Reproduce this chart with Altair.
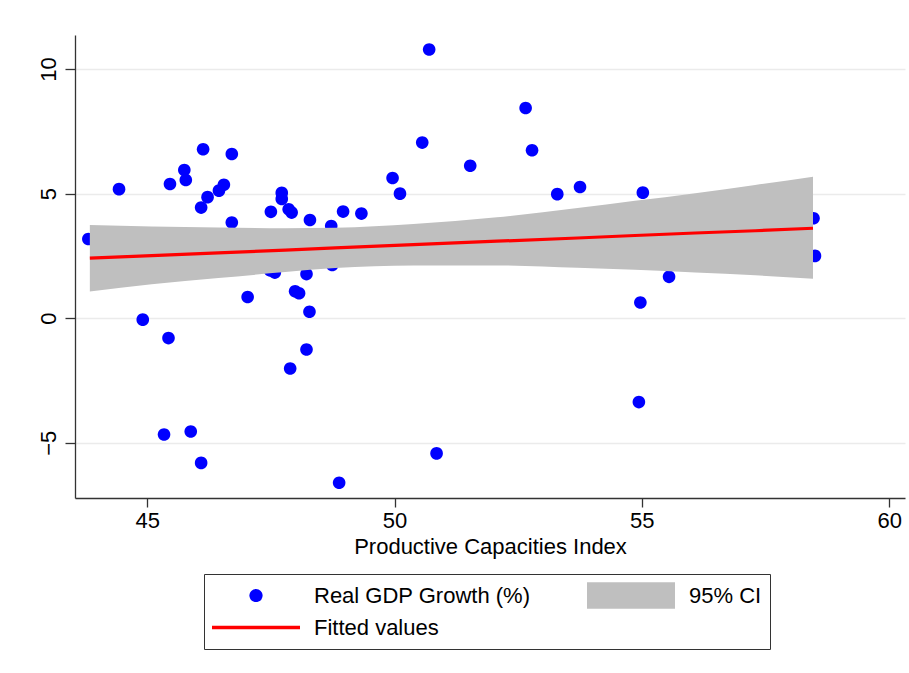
import altair as alt
import pandas as pd

# Scatter: Productive Capacities Index vs real GDP growth (%)
pci = [43.81, 44.43, 44.91, 45.34, 45.43, 45.46, 45.75, 45.78, 45.88, 46.09,
       46.09, 46.13, 46.22, 46.45, 46.55, 46.71, 46.71, 47.03, 47.48, 47.50,
       47.58, 47.72, 47.72, 47.86, 47.89, 47.92, 47.99, 48.07, 48.22, 48.22,
       48.28, 48.29, 48.72, 48.74, 48.88, 48.96, 49.33, 49.96, 50.11, 50.56,
       50.70, 50.85, 51.53, 52.65, 52.78, 53.29, 53.75, 54.94, 54.97, 55.02,
       55.55, 58.47, 58.50]
gdp = [3.18, 5.18, -0.06, -4.67, -0.80, 5.39, 5.95, 5.55, -4.55, 4.44,
       -5.81, 6.78, 4.86, 5.12, 5.36, 6.59, 3.84, 0.85, 1.92, 4.27,
       1.83, 5.03, 4.79, 4.37, -2.02, 4.24, 1.08, 1.00, 1.77, -1.26,
       0.26, 3.94, 3.70, 2.14, -6.61, 4.28, 4.20, 5.63, 5.00, 7.05,
       10.79, -5.43, 6.12, 8.44, 6.74, 4.98, 5.27, -3.37, 0.63, 5.04,
       1.66, 4.01, 2.50]

# Linear fit with its 95% confidence band
fit_x = [43.84, 45.09, 46.44, 47.79, 48.80, 50.38, 52.07, 53.70, 54.86, 56.08, 57.29, 58.46]
fit_y = [2.41, 2.51, 2.62, 2.73, 2.82, 2.95, 3.09, 3.22, 3.32, 3.42, 3.51, 3.61]
ci_lo = [1.07, 1.36, 1.61, 1.85, 2.01, 2.12, 2.12, 2.02, 1.94, 1.83, 1.72, 1.58]
ci_hi = [3.74, 3.68, 3.64, 3.61, 3.63, 3.78, 4.05, 4.42, 4.71, 5.02, 5.35, 5.68]

series = ["Real GDP Growth (%)", "95% CI", "Fitted values"]
colors = ["#0000ff", "#bfbfbf", "#ff0000"]
# legend keys: small dot, wide grey swatch, thin red bar (unit paths)
shapes = [
    "M-0.15,0A0.15,0.15,0,1,0,0.15,0A0.15,0.15,0,1,0,-0.15,0Z",
    "M-1,-0.3H1V0.3H-1Z",
    "M-1,-0.038H1V0.038H-1Z",
]

pts = pd.DataFrame({"pci": pci, "gdp": gdp, "series": series[0]})
fit = pd.DataFrame({"pci": fit_x, "gdp": fit_y, "lo": ci_lo, "hi": ci_hi})

FONT = "Liberation Sans"
FS = 22
AX = "#333333"

xscale = alt.Scale(domain=[43.54, 60.32], nice=False, zero=False)
yscale = alt.Scale(domain=[-7.22, 11.37], nice=False, zero=False)

xaxis = alt.Axis(values=[45, 50, 55, 60], title="Productive Capacities Index",
                 grid=False, tickSize=9, labelPadding=3, titlePadding=5,
                 labelFlush=False, labelOverlap=False)
yaxis = alt.Axis(values=[-5, 0, 5, 10], title=None, grid=True, tickSize=10,
                 labelPadding=10, labelAngle=-90, labelAlign="center",
                 labelBaseline="alphabetic", labelFlush=False, labelOverlap=False)

legend = alt.Legend(
    title=None, orient="none", legendX=129, legendY=539,
    direction="horizontal", columns=2, values=series,
    columnPadding=56, rowPadding=5, symbolSize=7744, clipHeight=27,
    labelOffset=14, labelFont=FONT, labelFontSize=FS, labelColor="#000000",
    labelLimit=500,
    symbolStrokeWidth=0, symbolOpacity=1, padding=8,
    strokeColor="#333333", fillColor="#ffffff",
)

x = alt.X("pci:Q", scale=xscale, axis=xaxis)

points = alt.Chart(pts).mark_point(filled=True, opacity=1, size=7056).encode(
    x=x,
    y=alt.Y("gdp:Q", scale=yscale, axis=yaxis),
    color=alt.Color("series:N", scale=alt.Scale(domain=series, range=colors), legend=legend),
    shape=alt.Shape("series:N", scale=alt.Scale(domain=series, range=shapes), legend=legend),
)

band = alt.Chart(fit).mark_area(color="#bfbfbf", opacity=1, interpolate="monotone").encode(
    x=x,
    y=alt.Y("lo:Q", scale=yscale, axis=yaxis),
    y2="hi:Q",
)

line = alt.Chart(fit).mark_line(color="#ff0000", strokeWidth=3.2).encode(
    x=x,
    y=alt.Y("gdp:Q", scale=yscale, axis=yaxis),
)

chart = alt.layer(points, band, line).properties(
    width=830, height=463,
    padding={"left": 75, "top": 35, "right": 4, "bottom": 175},
    autosize=alt.AutoSizeParams(type="none"),
    background="#ffffff",
).configure_view(stroke=None).configure_axis(
    domainColor=AX, domainWidth=1.3, tickColor=AX, tickWidth=1.3,
    gridColor="#ebebeb", gridWidth=1.3,
    labelFont=FONT, labelFontSize=FS, labelColor="#000000",
    titleFont=FONT, titleFontSize=FS, titleFontWeight="normal", titleColor="#000000",
)

chart.save("out.html", embed_options={"renderer": "svg", "actions": False})
